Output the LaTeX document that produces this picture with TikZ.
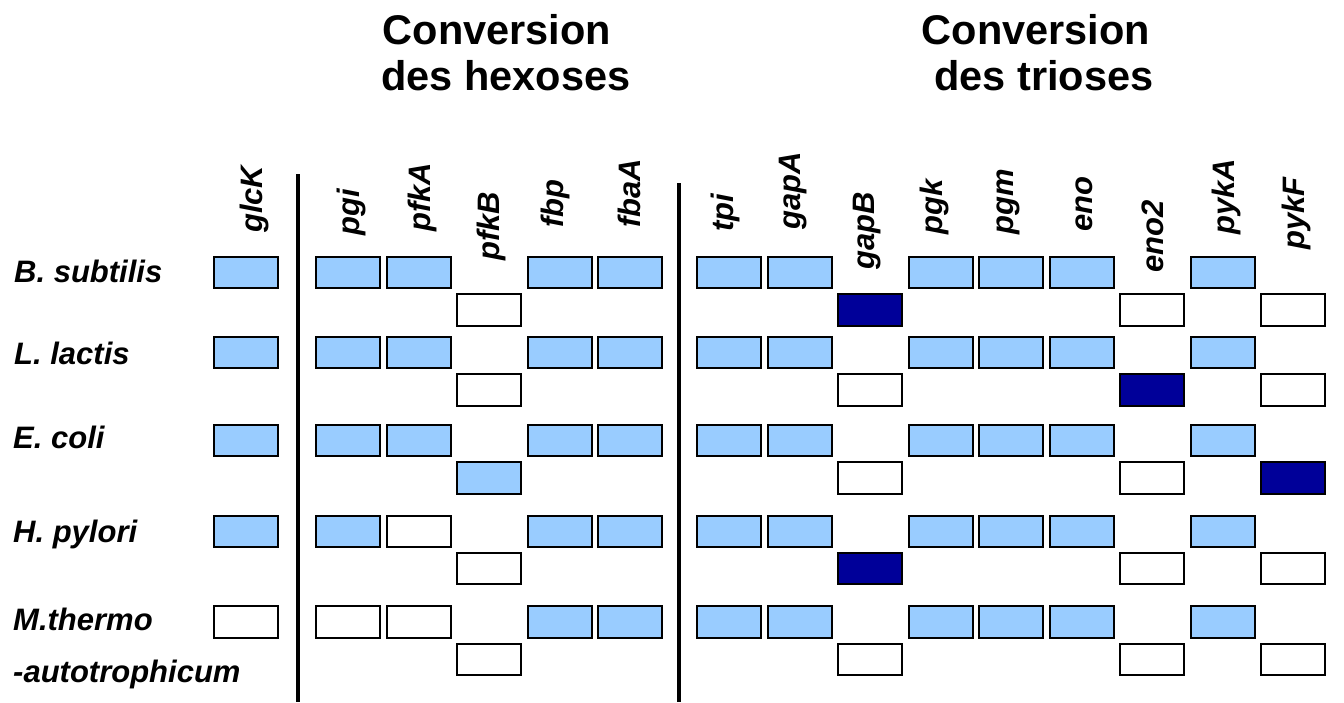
\documentclass[tikz,border=0pt]{standalone}
\usepackage{fontspec}
\setmainfont{Liberation Sans}   % Arial widths
\usepackage{tikz}
\usetikzlibrary{matrix}
\definecolor{genblue}{HTML}{99CCFF}
\definecolor{gennavy}{HTML}{000099}
\tikzset{
    gbox/.style={draw, line width=2pt, minimum width=64pt, minimum height=31.5pt, inner sep=0pt, outer sep=0pt},
    pres/.style={fill=genblue},
    abs/.style={fill=white},
    dark/.style={fill=gennavy},
    species/.style={inner sep=0pt, anchor=base west, font=\bfseries\itshape\fontsize{31}{33}\selectfont},
    gene/.style={inner sep=0pt, anchor=west, rotate=90, font=\bfseries\itshape\fontsize{31}{33}\selectfont},
    heading/.style={inner sep=0pt, anchor=base, font=\bfseries\fontsize{41.5}{45}\selectfont},
    divider/.style={line width=4pt}
}

\begin{document}
\begin{tikzpicture}[x=1pt, y=-1pt]
    \useasboundingbox (0,0) rectangle (1344,702);
    \matrix (m) [matrix of nodes, ampersand replacement=\&, nodes={gbox}, matrix anchor=m-1-1.center,
                 row sep=0pt, column sep={70.5pt,between origins}] at (246,272.5) {
        |[pres]| \&[31.5pt] |[pres]| \& |[pres]| \& \& |[pres]| \& |[pres]| \&[28.5pt] |[pres]| \& |[pres]| \& \& |[pres]| \& |[pres]| \& |[pres]| \& \& |[pres]| \& \\[37.5pt,between origins]
        \& \& \& |[abs]| \& \& \& \& \& |[dark]| \& \& \& \& |[abs]| \& \& |[abs]| \\[42.5pt,between origins]
        |[pres]| \& |[pres]| \& |[pres]| \& \& |[pres]| \& |[pres]| \& |[pres]| \& |[pres]| \& \& |[pres]| \& |[pres]| \& |[pres]| \& \& |[pres]| \& \\[37.5pt,between origins]
        \& \& \& |[abs]| \& \& \& \& \& |[abs]| \& \& \& \& |[dark]| \& \& |[abs]| \\[50.5pt,between origins]
        |[pres]| \& |[pres]| \& |[pres]| \& \& |[pres]| \& |[pres]| \& |[pres]| \& |[pres]| \& \& |[pres]| \& |[pres]| \& |[pres]| \& \& |[pres]| \& \\[37.5pt,between origins]
        \& \& \& |[pres]| \& \& \& \& \& |[abs]| \& \& \& \& |[abs]| \& \& |[dark]| \\[53.5pt,between origins]
        |[pres]| \& |[pres]| \& |[abs]| \& \& |[pres]| \& |[pres]| \& |[pres]| \& |[pres]| \& \& |[pres]| \& |[pres]| \& |[pres]| \& \& |[pres]| \& \\[37pt,between origins]
        \& \& \& |[abs]| \& \& \& \& \& |[dark]| \& \& \& \& |[abs]| \& \& |[abs]| \\[53.5pt,between origins]
        |[abs]| \& |[abs]| \& |[abs]| \& \& |[pres]| \& |[pres]| \& |[pres]| \& |[pres]| \& \& |[pres]| \& |[pres]| \& |[pres]| \& \& |[pres]| \& \\[37.5pt,between origins]
        \& \& \& |[abs]| \& \& \& \& \& |[abs]| \& \& \& \& |[abs]| \& \& |[abs]| \\
    };

    \node[heading] (hexa) at (497,44.5) {Conversion};
    \node[heading] (hexb) at (506,90) {des hexoses};
    \node[heading] (tria) at (1036,44.5) {Conversion};
    \node[heading] (trib) at (1044,90) {des trioses};

    \node[species] (bsu) at (14,282) {B. subtilis};
    \node[species] (lla) at (14,364) {L. lactis};
    \node[species] (eco) at (13,448) {E. coli};
    \node[species] (hpy) at (13,542) {H. pylori};
    \node[species] (mtha) at (13,630) {M.thermo};
    \node[species] (mthb) at (13,682) {-autotrophicum};

    \node[gene] (glcK) at (254,233) {glcK};
    \node[gene] (pgi) at (351,236) {pgi};
    \node[gene] (pfkA) at (422,232) {pfkA};
    \node[gene] (pfkB) at (491,261) {pfkB};
    \node[gene] (fbp) at (555,228) {fbp};
    \node[gene] (fbaA) at (629,228) {fbaA};
    \node[gene] (tpi) at (725,232) {tpi};
    \node[gene] (gapA) at (793,230) {gapA};
    \node[gene] (gapB) at (867,270) {gapB};
    \node[gene] (pgk) at (934,235) {pgk};
    \node[gene] (pgm) at (1008,235) {pgm};
    \node[gene] (eno) at (1084,232) {eno};
    \node[gene] (eno2) at (1153,273) {eno2};
    \node[gene] (pykA) at (1226,235) {pykA};
    \node[gene] (pykF) at (1296,250) {pykF};

    \coordinate (hext) at (298,174);
    \coordinate (hexe) at (298,702);
    \coordinate (trit) at (679,183);
    \coordinate (trie) at (679,702);
    \draw[divider] (hext) -- (hexe);
    \draw[divider] (trit) -- (trie);
\end{tikzpicture}
\end{document}
